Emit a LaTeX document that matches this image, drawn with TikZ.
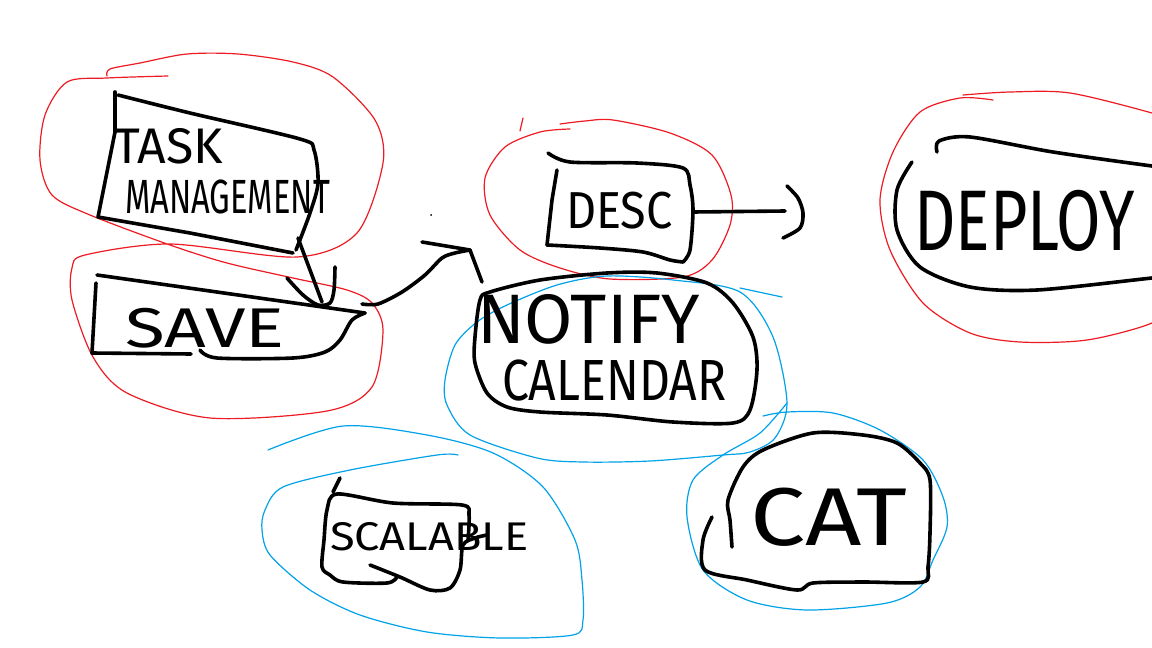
\documentclass[tikz,border=0pt]{standalone}
\usepackage{fontspec}
\setmainfont{Fira Sans}
\definecolor{penred}{RGB}{237,28,36}
\definecolor{penblue}{RGB}{0,162,232}
\tikzset{
  ink/.style={line width=3.6pt, line cap=round, line join=round, black},
  redloop/.style={line width=1.2pt, penred, line cap=round},
  blueloop/.style={line width=1.2pt, penblue, line cap=round},
  txt/.style={anchor=base west, inner sep=0pt, outer sep=0pt, black}
}
\begin{document}
\begin{tikzpicture}[x=1pt,y=-1pt]
\useasboundingbox (0,0) rectangle (1152,648);
\fill[white] (0,0) rectangle (1152,648);
\clip (0,0) rectangle (1152,648);

% ---------- red loops ----------
\draw[redloop] plot[smooth] coordinates {(168,76) (107,78) (67,82) (45,115) (40,160) (52,195) (90,215) (170,245) (227,263) (293,278) (347,290) (372,303) (383,330) (372,387) (327,411) (210,418) (127,393) (93,357) (72,300) (72,268) (85,255) (170,244) (297,257) (357,233) (383,163) (375,120) (333,77) (293,62) (238,54) (187,54) (140,63) (110,69) (107,76)};
\draw[redloop] (520,131) -- (523,118);
\draw[redloop] plot[smooth] coordinates {(570,129) (540,132) (505,147) (485,178) (490,215) (520,250) (560,268) (610,279) (683,277) (712,260) (730,225) (731,195) (712,155) (670,133) (613,120) (585,121) (560,124)};
\draw[redloop] plot[smooth] coordinates {(993,100) (960,98) (920,112) (893,152) (880,200) (890,250) (923,303) (970,333) (1020,342) (1087,340) (1152,323) (1180,300)};
\draw[redloop] plot[smooth] coordinates {(963,95) (1010,92) (1070,93) (1152,113) (1175,122)};

% ---------- blue loops ----------
\draw[blueloop] plot[smooth cycle] coordinates {(445,380) (455,345) (477,322) (507,305) (557,285) (607,276) (673,280) (740,292) (773,337) (787,403) (775,438) (750,452) (723,455) (650,461) (583,462) (537,458) (470,435) (447,405)};
\draw[blueloop] (740,288) -- (782,297);
\draw[blueloop] plot[smooth] coordinates {(458,455) (437,455) (350,470) (283,487) (265,510) (262,530) (270,555) (310,590) (360,615) (427,632) (500,638) (573,635) (583,620) (582,580) (575,540) (543,487) (493,453) (427,435) (343,426) (268,450)};
\draw[blueloop] plot[smooth] coordinates {(763,416) (787,412) (833,413) (880,430) (923,460) (943,497) (947,527) (933,560) (920,587) (887,603) (807,610) (747,600) (703,570) (687,517) (693,480) (723,455) (760,433) (787,403)};

% ---------- TASK MANAGEMENT ----------
\draw[ink] (115,92) -- (115,132);
\draw[ink] plot[smooth] coordinates {(118,95) (190,113) (300,139) (314,150) (318,183) (310,213) (296,250)};
\draw[ink] (293,253) -- (190,233) -- (98,217) -- (115,132);
\node[txt, font=\fontsize{50}{56}\selectfont] (task1) at (114,163) {TASK};
\node[txt, font=\fontsize{48}{56}\selectfont, xscale=0.68] (task2) at (125,213) {MANAGEMENT};
\coordinate (taskBR) at (298,238);

% ---------- SAVE ----------
\draw[ink] (97,275) -- (365,313);
\draw[ink] plot[smooth] coordinates {(365,313) (352,320) (340,340) (325,352) (293,358) (217,358) (200,350)};
\draw[ink] (96,283) -- (92,353) -- (191,354);
\node[txt, font=\fontsize{56}{60}\selectfont, xscale=1.3] (save) at (125,347) {SAVE};
\coordinate (saveTop) at (322,302);
\coordinate (saveR) at (362,304);

% task -> save
\draw[ink] (taskBR) -- (saveTop);
\draw[ink] plot[smooth] coordinates {(287,278) (303,295) (318,305) (330,303) (334,290) (335,267)};

% ---------- DESC ----------
\draw[ink] plot[smooth] coordinates {(548,153) (570,162) (637,163) (683,168) (690,185) (693,210) (690,250) (683,262)};
\draw[ink] plot[smooth] coordinates {(683,262) (670,260) (643,252) (600,248) (547,245)};
\draw[ink] (547,245) -- (552,200) -- (557,170);
\node[txt, font=\fontsize{52}{60}\selectfont, xscale=0.9] (desc) at (566,228) {DESC};
\coordinate (descR) at (693,212);
\coordinate (depL) at (785,211);
\draw[ink] (descR) -- (depL);
\draw[ink] plot[smooth] coordinates {(787,186) (798,198) (803,213) (800,228) (783,238)};

% ---------- DEPLOY ----------
\draw[ink] plot[smooth] coordinates {(937,152) (939,141) (970,137) (1053,152) (1152,166) (1175,168)};
\draw[ink] plot[smooth] coordinates {(912,162) (897,190) (897,230) (920,267) (970,287) (1037,290) (1152,278) (1175,276)};
\node[txt, font=\fontsize{86}{90}\selectfont, xscale=0.75] (deploy) at (914,250) {DEPLOY};

% ---------- NOTIFY CALENDAR ----------
\draw[ink] plot[smooth cycle] coordinates {(480,300) (490,292) (540,280) (607,273) (657,273) (707,283) (733,303) (753,337) (757,370) (750,410) (733,423) (673,422) (607,415) (540,412) (507,407) (487,393) (475,363) (475,337)};
\node[txt, font=\fontsize{70}{72}\selectfont] (notify) at (477,343) {NOTIFY};
\node[txt, font=\fontsize{58}{60}\selectfont, xscale=0.83] (calendar) at (502,400) {CALENDAR};
\coordinate (notTip) at (470,250);

% save -> notify
\draw[ink] plot[smooth] coordinates {(362,304) (378,304) (402,292) (425,275) (442,258) (455,253) (470,250)};
\draw[ink] (422,242) -- (notTip) -- (482,282);

% ---------- SCALABLE ----------
\draw[ink] (340,478) -- (333,492);
\draw[ink] plot[smooth] coordinates {(468,540) (469,515) (462,505) (393,503) (337,494) (327,510) (324,540) (322,567) (330,575) (343,582) (387,583) (397,577)};
\draw[ink] plot[smooth] coordinates {(370,565) (400,577) (430,590) (450,588) (460,570) (463,545) (475,538) (487,535)};
\node[txt, font=\fontsize{40}{44}\selectfont, xscale=1.13] (scalable) at (330,550) {SCALABLE};

% ---------- CAT ----------
\draw[ink] plot[smooth] coordinates {(712,517) (703,540) (705,570) (747,580) (797,590) (813,583) (863,582) (923,582) (928,567) (930,533) (930,480) (920,463) (897,443) (863,435) (813,433) (763,450) (743,467) (728,500) (730,520) (732,547)};
\node[txt, font=\fontsize{82}{86}\selectfont, xscale=1.2] (cat) at (750,545) {CAT};

\fill (431,215) circle (1pt);
\end{tikzpicture}
\end{document}
